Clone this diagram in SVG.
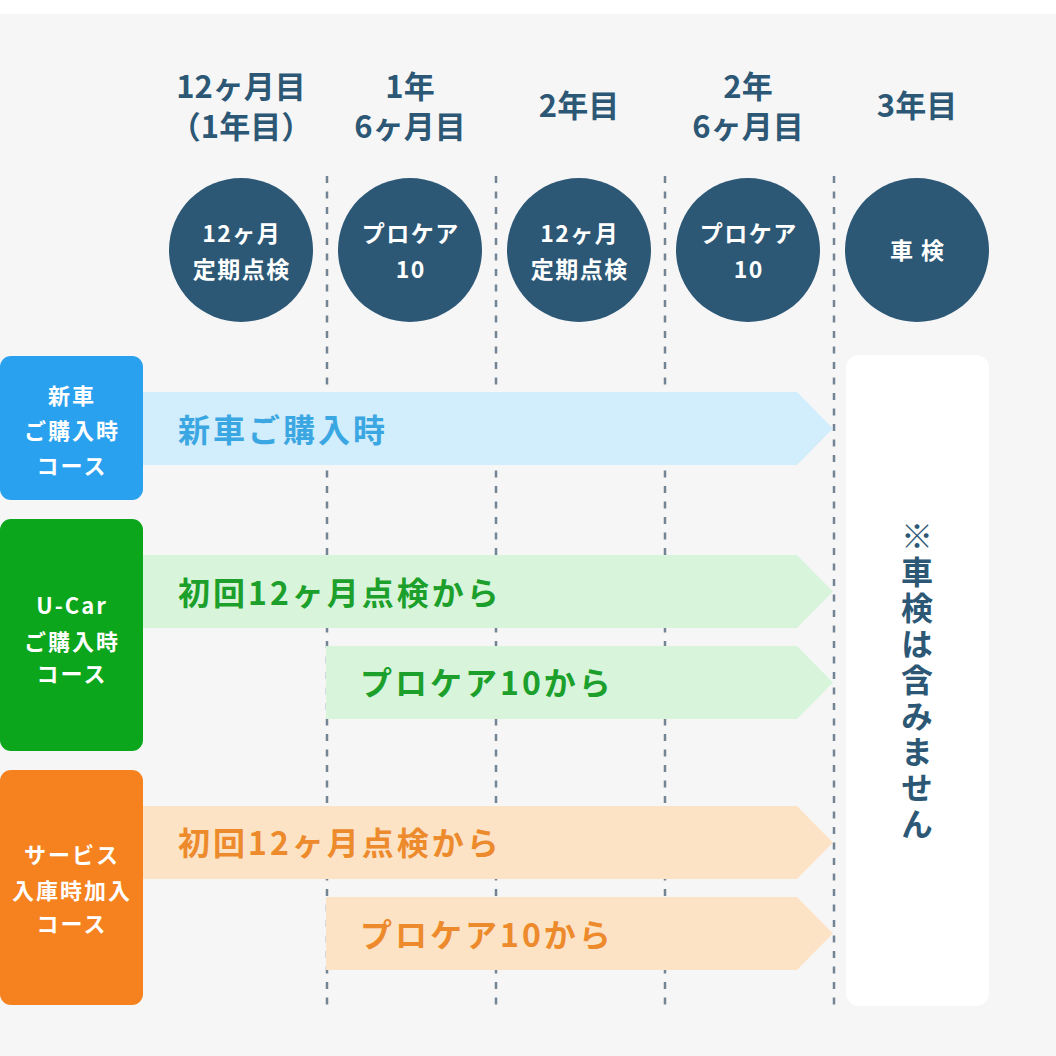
<svg xmlns="http://www.w3.org/2000/svg" width="1056" height="1056" viewBox="0 0 1056 1056">
<style>
text{font-family:"Noto Sans CJK JP","Noto Sans",sans-serif;font-weight:700}
.hd{font-size:31px;fill:#2c5876;text-anchor:middle}
.ct{font-size:23px;fill:#ffffff;text-anchor:middle;letter-spacing:1.5px}
.bx{font-size:22px;fill:#ffffff;text-anchor:middle;letter-spacing:2px}
.at{font-size:32px;letter-spacing:3px}
.dash{stroke:#738595;stroke-width:2.5;stroke-dasharray:7 8.5;fill:none}
.circ{fill:#2c5876}
</style>
<rect x="0" y="0" width="1056" height="1056" fill="#ffffff"/>
<rect x="0" y="14" width="1056" height="1042" fill="#f6f6f7"/>

<g id="headers">
<text class="hd" x="241" y="98">12ヶ月目</text>
<text class="hd" x="241" y="137.5">（1年目）</text>
<text class="hd" x="410" y="98">1年</text>
<text class="hd" x="410" y="137.5">6ヶ月目</text>
<text class="hd" x="579" y="116.5">2年目</text>
<text class="hd" x="748" y="98">2年</text>
<text class="hd" x="748" y="137.5">6ヶ月目</text>
<text class="hd" x="917" y="116.5">3年目</text>
</g>

<g id="connectors">
<line class="dash" x1="327" y1="176" x2="327" y2="1006"/>
<line class="dash" x1="496" y1="176" x2="496" y2="1006"/>
<line class="dash" x1="665" y1="176" x2="665" y2="1006"/>
<line class="dash" x1="834" y1="176" x2="834" y2="1006"/>
</g>

<g id="c1"><circle class="circ" cx="241" cy="250" r="72"/>
<text class="ct" x="241.75" y="242">12ヶ月</text><text class="ct" x="241.75" y="278">定期点検</text></g>
<g id="c2"><circle class="circ" cx="410" cy="250" r="72"/>
<text class="ct" x="410.75" y="242">プロケア</text><text class="ct" x="410.75" y="278">10</text></g>
<g id="c3"><circle class="circ" cx="579" cy="250" r="72"/>
<text class="ct" x="579.75" y="242">12ヶ月</text><text class="ct" x="579.75" y="278">定期点検</text></g>
<g id="c4"><circle class="circ" cx="748" cy="250" r="72"/>
<text class="ct" x="748.75" y="242">プロケア</text><text class="ct" x="748.75" y="278">10</text></g>
<g id="c5"><circle class="circ" cx="917" cy="250" r="72"/>
<text class="ct" x="917.75" y="259">車 検</text></g>

<g id="note">
<rect x="846" y="355" width="143" height="651" rx="13" fill="#ffffff"/>
<text x="917" y="682" style="writing-mode:vertical-rl;font-size:32px;letter-spacing:4px" fill="#2c5876" text-anchor="middle">※車検は含みません</text>
</g>

<g id="arrow-new">
<polygon points="143,392 797,392 833,428.5 797,465 143,465" fill="#d2edfb"/>
<text class="at" x="178" y="442" fill="#3ba7e2">新車ご購入時</text>
</g>
<g id="arrow-ucar1">
<polygon points="143,555 797,555 833,591.5 797,628 143,628" fill="#d8f5db"/>
<text class="at" x="178" y="605" fill="#1c9f2b">初回12ヶ月点検から</text>
</g>
<g id="arrow-ucar2">
<polygon points="326,646 797,646 833,682.5 797,719 326,719" fill="#d8f5db"/>
<text class="at" x="360" y="695" fill="#1c9f2b">プロケア10から</text>
</g>
<g id="arrow-svc1">
<polygon points="143,806 797,806 833,842.5 797,879 143,879" fill="#fde3c6"/>
<text class="at" x="178" y="855" fill="#ec8a2c">初回12ヶ月点検から</text>
</g>
<g id="arrow-svc2">
<polygon points="326,897 797,897 833,933.5 797,970 326,970" fill="#fde3c6"/>
<text class="at" x="360" y="947" fill="#ec8a2c">プロケア10から</text>
</g>

<g id="box-new">
<rect x="0" y="356" width="143" height="144" rx="11" fill="#2aa1ef"/>
<text class="bx" x="72" y="403.5">新車</text>
<text class="bx" x="72" y="439">ご購入時</text>
<text class="bx" x="72" y="473.5">コース</text>
</g>
<g id="box-ucar">
<rect x="0" y="519" width="143" height="232" rx="11" fill="#0ba61c"/>
<text class="bx" x="72" y="614">U-Car</text>
<text class="bx" x="72" y="650">ご購入時</text>
<text class="bx" x="72" y="682">コース</text>
</g>
<g id="box-svc">
<rect x="0" y="770" width="143" height="235" rx="11" fill="#f5821f"/>
<text class="bx" x="72" y="862.5">サービス</text>
<text class="bx" x="72" y="899">入庫時加入</text>
<text class="bx" x="72" y="931.5">コース</text>
</g>
</svg>
